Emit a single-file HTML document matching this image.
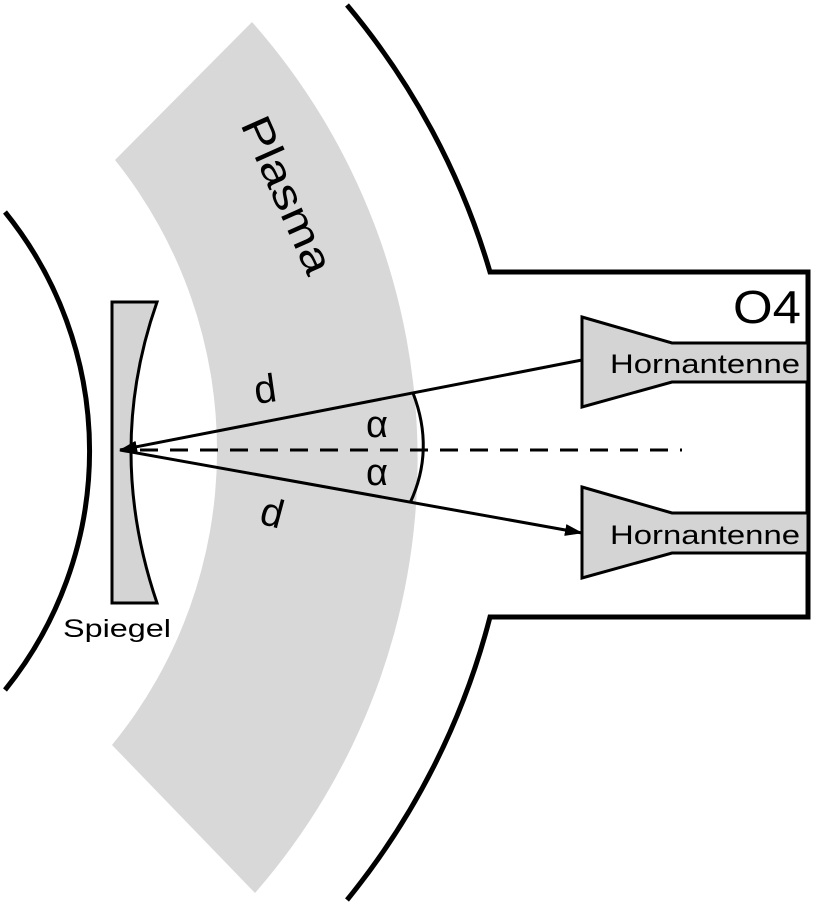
<!DOCTYPE html>
<html><head><meta charset="utf-8"><style>
html,body{margin:0;padding:0;background:#fff;}
svg{display:block;}
text{font-family:"Liberation Sans",sans-serif;}
</style></head><body>
<svg width="817" height="906" viewBox="0 0 817 906">
<defs>
<marker id="arr2" markerWidth="18" markerHeight="12" refX="17" refY="6" orient="auto" markerUnits="userSpaceOnUse" viewBox="0 0 18 12">
<path d="M0,0 L18,6 L0,12 Z" fill="#000"/>
</marker>
</defs>
<path d="M252,22 A660,660 0 0 1 255,893 L112,745 A465,465 0 0 0 115,160 Z" fill="#d8d8d8"/>
<text x="0" y="0" font-size="42" textLength="168" lengthAdjust="spacingAndGlyphs" transform="translate(240,124) rotate(66)">Plasma</text>
<path d="M5,212 A380,380 0 0 1 5,690" fill="none" stroke="#000" stroke-width="5"/>
<path d="M347,5 A740,740 0 0 1 490,272 L808,272 L808,617 L490,617 A740,740 0 0 1 347,900" fill="none" stroke="#000" stroke-width="5"/>
<path d="M112,302 L157,302 Q105,450 157,603 L112,603 Z" fill="#d4d4d4" stroke="#000" stroke-width="3"/>
<text x="63" y="637" font-size="25" textLength="108" lengthAdjust="spacingAndGlyphs">Spiegel</text>
<line x1="140" y1="450" x2="682" y2="450" stroke="#000" stroke-width="3" stroke-dasharray="18,12"/>
<line x1="582" y1="360" x2="120" y2="450" stroke="#000" stroke-width="3" marker-end="url(#arr2)"/>
<line x1="120" y1="450" x2="582" y2="533" stroke="#000" stroke-width="3" marker-end="url(#arr2)"/>
<path d="M413,393 Q435,450 410,503" fill="none" stroke="#000" stroke-width="3"/>
<text x="366" y="437" font-size="38" font-family="Liberation Serif,serif">α</text>
<text x="366" y="485" font-size="38" font-family="Liberation Serif,serif">α</text>
<text x="0" y="0" font-size="40" transform="translate(256,404) rotate(-8)">d</text>
<text x="0" y="0" font-size="40" transform="translate(258,523) rotate(15)">d</text>
<path d="M582,317 L672,343 L808,343 L808,382 L672,382 L582,407 Z" fill="#d4d4d4" stroke="#000" stroke-width="3"/>
<text x="610" y="373" font-size="27" textLength="190" lengthAdjust="spacingAndGlyphs">Hornantenne</text>
<path d="M582,487 L672,513 L808,513 L808,553 L672,553 L582,578 Z" fill="#d4d4d4" stroke="#000" stroke-width="3"/>
<text x="610" y="544" font-size="27" textLength="190" lengthAdjust="spacingAndGlyphs">Hornantenne</text>
<text x="733" y="323" font-size="46" textLength="68" lengthAdjust="spacingAndGlyphs">O4</text>
</svg>
</body></html>
